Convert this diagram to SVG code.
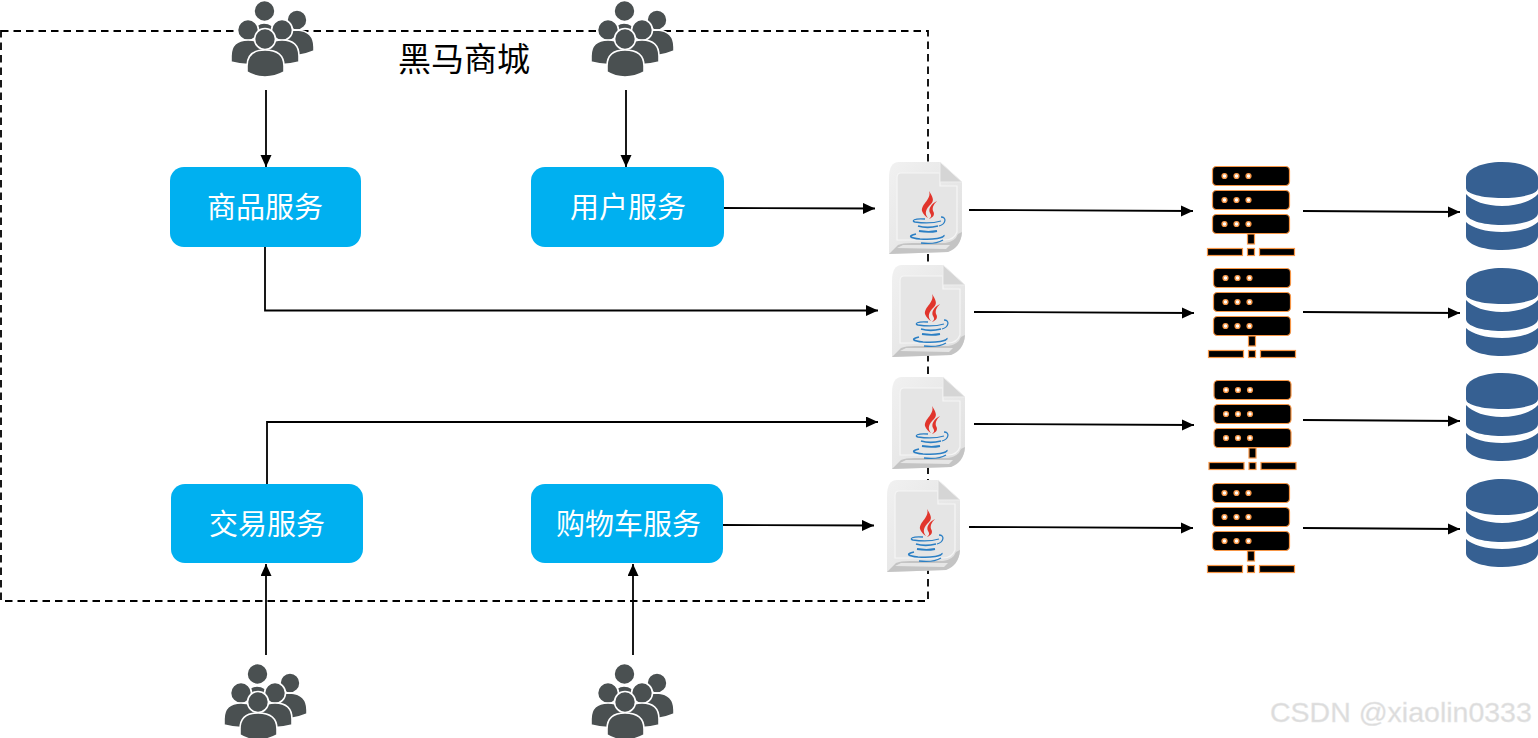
<svg xmlns="http://www.w3.org/2000/svg" xmlns:xlink="http://www.w3.org/1999/xlink" width="1538" height="738" viewBox="0 0 1538 738">
<style>
.svc{fill:#00b0f0}
.lbl{font-family:"Noto Sans CJK SC","Noto Sans",sans-serif;font-size:29px;fill:#fff;text-anchor:middle}
.ttl{font-family:"Noto Sans CJK SC","Noto Sans",sans-serif;font-size:33px;fill:#000}
.wm{font-family:"Liberation Sans",Arial,sans-serif;font-size:28.5px;fill:#dcdcdc;stroke:#e8e8e8;stroke-width:.4}
.c{fill:none;stroke:#000;stroke-width:1.8;marker-end:url(#a)}
.p{fill:#4a5051;stroke:#fff;stroke-width:1.6}
.rack{fill:#000;stroke:#f79646;stroke-width:1.2}
.dot{fill:#fff;stroke:#f79646;stroke-width:1.4}
</style>
<defs>
<marker id="a" markerUnits="userSpaceOnUse" markerWidth="13" markerHeight="12" refX="12" refY="5.5" orient="auto"><path d="M0 0L12 5.5L0 11Z" fill="#000"/></marker>
<g id="people">
<circle class="p" cx="297" cy="20" r="10"/>
<path class="p" d="M278 45V40Q280 30 297 30Q314 31 314 47V51Q305 55 295 56Z"/>
<circle class="p" cx="264.500" cy="11" r="10.500"/>
<path class="p" d="M253 32Q256 23 264 23Q273 23 277 32V48H253Z"/>
<circle class="p" cx="248" cy="30" r="10.500"/>
<path class="p" d="M231 62V56Q231 40 248 40Q265 40 265 56V62Q248 67 231 62Z"/>
<circle class="p" cx="282" cy="30" r="10.500"/>
<path class="p" d="M265 62V56Q265 40 282 40Q299 40 299 56V62Q282 67 265 62Z"/>
<circle class="p" cx="265" cy="39" r="10.500"/>
<path class="p" d="M247 72V66Q247 50 265 50Q284 50 284 66V72Q275 77 265 77Q255 77 247 72Z"/>
</g>
<linearGradient id="pg" x1="0" y1="0" x2="1" y2="1"><stop offset="0" stop-color="#f1f1f1"/><stop offset="1" stop-color="#dfdfdf"/></linearGradient>
<g id="javafile">
<path d="M899 162H940L962 182V232Q961 247 948 252L889 254V178Q889 162 899 162Z" fill="url(#pg)"/>
<path d="M901 173H940V186H957V232Q954 240 945 240H897V178Q897 173 901 173Z" fill="#e5e5e5" stroke="#f5f5f5" stroke-width="1.200"/>
<path d="M889 254L898 245Q902 243 912 243H945Q955 242 958 234L962 232Q961 247 948 252Z" fill="#c4c4c4"/>
<path d="M897 248L903 245H950L946 249Z" fill="#e6e6e6"/>
<path d="M940 162L962 182H940Z" fill="#d5d5d5" stroke="#eee"/>
<path d="M929 191C932 199 921 204 922 211C923 214 926 217 928 218C924 213 926 209 931 204C935 200 932 196 929 191Z" fill="#e1352c"/>
<path d="M937 201C931 204 928 209 930 213C932 216 931 217 929 219C934 217 935 214 933 211C932 207 934 204 937 201Z" fill="#e1352c"/>
<g fill="none" stroke="#2b7fc4">
<path d="M925 219C914 218 911 221 915 222C922 223 934 223 941 221" stroke-width="1.300"/>
<path d="M941 217C947 217 946 224 939 226" stroke-width="1.300"/>
<path d="M918 226C925 228 934 227 938 226" stroke-width="1.800"/>
<path d="M919 231C925 232 932 232 937 231" stroke-width="1.800"/>
<path d="M916 234C907 236 910 238 920 239C933 240 945 238 944 235" stroke-width="1.500"/>
<path d="M921 243C929 244 938 243 943 240" stroke-width="1.300"/>
</g>
</g>
<g id="server">
<rect class="rack" x="1212.500" y="166.500" width="77" height="19" rx="4"/>
<rect class="rack" x="1212.500" y="190.500" width="77" height="19" rx="4"/>
<rect class="rack" x="1212.500" y="214.500" width="77" height="19" rx="4"/>
<circle class="dot" cx="1224.500" cy="176" r="2.400"/><circle class="dot" cx="1236.500" cy="176" r="2.400"/><circle class="dot" cx="1248.500" cy="176" r="2.400"/>
<circle class="dot" cx="1224.500" cy="200" r="2.400"/><circle class="dot" cx="1236.500" cy="200" r="2.400"/><circle class="dot" cx="1248.500" cy="200" r="2.400"/>
<circle class="dot" cx="1224.500" cy="224" r="2.400"/><circle class="dot" cx="1236.500" cy="224" r="2.400"/><circle class="dot" cx="1248.500" cy="224" r="2.400"/>
<rect class="rack" x="1247.500" y="234" width="7" height="10"/>
<rect class="rack" x="1207.500" y="248.500" width="35" height="7"/>
<rect class="rack" x="1247.500" y="248.500" width="7" height="7"/>
<rect class="rack" x="1259.500" y="248.500" width="35" height="7"/>
</g>
<g id="db" fill="#366092">
<path d="M1466 178C1466 169 1482 162 1502 162C1522 162 1538 169 1538 178V188C1538 194 1522 198 1502 198C1482 198 1466 194 1466 188Z"/>
<path d="M1466 194C1472 201 1486 206 1502 206C1518 206 1532 201 1538 194V213C1538 220 1522 225 1502 225C1482 225 1466 220 1466 213Z"/>
<path d="M1466 222C1472 228 1486 232 1502 232C1518 232 1532 228 1538 222V236C1538 244 1522 250 1502 250C1482 250 1466 244 1466 236Z"/>
</g>
</defs>
<rect width="1538" height="738" fill="#fff"/>
<g id="boundary">
<rect x="1" y="31" width="927" height="570" fill="none" stroke="#000" stroke-width="1.800" stroke-dasharray="7.500 5"/>
<text class="ttl" x="398" y="70.500">黑马商城</text>
</g>
<g id="connectors">
<path class="c" d="M266 90V167"/>
<path class="c" d="M626 90V167"/>
<path class="c" d="M724 208L875 208.500"/>
<path class="c" d="M265 247V310.500H878"/>
<path class="c" d="M267 484V422H878"/>
<path class="c" d="M723 525L874 525.500"/>
<path class="c" d="M266 655V564"/>
<path class="c" d="M633 655V564"/>
<path class="c" d="M969 210L1193 211"/>
<path class="c" d="M974 312L1194 313"/>
<path class="c" d="M974 424L1194 425"/>
<path class="c" d="M969 527L1193 528"/>
<path class="c" d="M1303 211L1460 212"/>
<path class="c" d="M1303 312L1460 313"/>
<path class="c" d="M1303 420L1460 421"/>
<path class="c" d="M1303 528L1460 529"/>
</g>
<g id="node-goods"><rect class="svc" x="170" y="167" width="191" height="80" rx="14"/><text class="lbl" x="265" y="218">商品服务</text></g>
<g id="node-user"><rect class="svc" x="531" y="167" width="193" height="80" rx="14"/><text class="lbl" x="628" y="218">用户服务</text></g>
<g id="node-trade"><rect class="svc" x="171" y="484" width="192" height="79" rx="14"/><text class="lbl" x="267" y="535">交易服务</text></g>
<g id="node-cart"><rect class="svc" x="531" y="484" width="192" height="79" rx="14"/><text class="lbl" x="628.500" y="535">购物车服务</text></g>
<g id="users-1"><use href="#people"/></g>
<g id="users-2"><use href="#people" x="360"/></g>
<g id="users-3"><use href="#people" x="-7" y="663"/></g>
<g id="users-4"><use href="#people" x="360" y="663"/></g>
<g id="jar-1"><use href="#javafile"/></g>
<g id="jar-2"><use href="#javafile" x="3" y="103"/></g>
<g id="jar-3"><use href="#javafile" x="3" y="215"/></g>
<g id="jar-4"><use href="#javafile" x="-2" y="318"/></g>
<g id="server-1"><use href="#server"/></g>
<g id="server-2"><use href="#server" x="1" y="102"/></g>
<g id="server-3"><use href="#server" x="1.500" y="214"/></g>
<g id="server-4"><use href="#server" y="317"/></g>
<g id="db-1"><use href="#db"/></g>
<g id="db-2"><use href="#db" y="106"/></g>
<g id="db-3"><use href="#db" y="211"/></g>
<g id="db-4"><use href="#db" y="317"/></g>
<text class="wm" x="1270" y="722">CSDN @xiaolin0333</text>
</svg>
